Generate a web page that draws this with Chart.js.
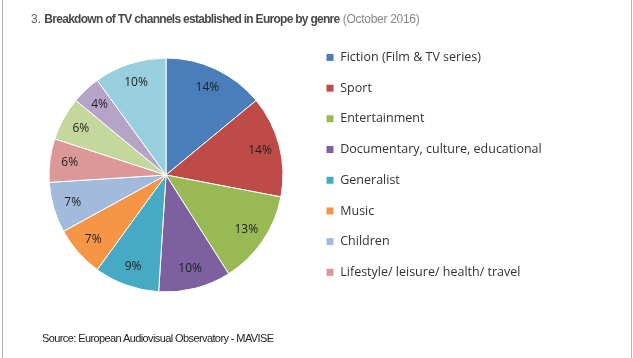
<!DOCTYPE html>
<html>
<head>
<meta charset="utf-8">
<script src="https://cdn.jsdelivr.net/npm/chart.js@4.4.1/dist/chart.umd.min.js"></script>
<style>
  html, body { margin: 0; padding: 0; background: #fff; }
  #wrap { position: relative; width: 633px; height: 358px; overflow: hidden; }
  #wrap:before, #wrap:after { content: ""; position: absolute; top: 0; bottom: 0; width: 1px; background: #b4b4b4; }
  #wrap:before { left: 2px; }
  #wrap:after { left: 631px; }
  #title { position: absolute; left: 31px; top: 12px; font: 12px "Liberation Sans", sans-serif; color: #666; white-space: nowrap; }
  #title b { color: #4a4a4a; letter-spacing: -0.72px; }
  #title span { color: #888; letter-spacing: -0.3px; }
  #source { position: absolute; left: 42px; top: 332px; font: 11px "Liberation Sans", sans-serif; color: #222; white-space: nowrap; letter-spacing: -0.6px; }
  #box { position: absolute; left: 0; top: 0; width: 633px; height: 358px; }
</style>
</head>
<body>
<div id="wrap">
  <div id="box"><canvas id="pie"></canvas></div>
  <div id="title">3. <b>Breakdown of TV channels established in Europe by genre</b> <span>(October 2016)</span></div>
  <div id="source">Source: European Audiovisual Observatory - MAVISE</div>
</div>
<script>
// genres, in the order of the slices (clockwise from 12 o'clock)
let genres = ["Fiction (Film & TV series)", "Sport", "Entertainment", "Documentary, culture, educational",
    "Generalist", "Music", "Children", "Lifestyle/ leisure/ health/ travel", "News", "Adult", "Other"];
// share of channels, %
let shares = [14, 14, 13, 10, 9, 7, 7, 6, 6, 4, 10];
let colours = ["#4a7ebb", "#be4b48", "#98b954", "#7d60a0", "#46aac5", "#f69546",
    "#a2bbdd", "#dc9897", "#c4d79c", "#b5a4c8", "#98cfde"];
// the legend in the picture is cut after the 8th entry
let shownInLegend = 8;

let legendFont = 12.5;
let legendPad = 18.2;
let boxW = 8;
let legendLeft = 326 - legendPad;
let pieX = 166;

// legend box width = text width + padding, so work out the right padding that puts it at legendLeft
let m = document.createElement("canvas").getContext("2d");
m.font = legendFont + "px 'Open Sans'";
let maxText = 0;
for (let i = 0; i < shownInLegend; i++) {
    maxText = Math.max(maxText, m.measureText(genres[i]).width);
}
let legendW = legendPad + boxW + legendFont / 2 + maxText + 10;
let padRight = 633 - legendLeft - legendW;
let padLeft = 2 * pieX - legendLeft;

const pctLabels = {
    id: "pctLabels",
    afterDatasetsDraw(chart) {
        let ctx = chart.ctx;
        let meta = chart.getDatasetMeta(0);
        ctx.save();
        ctx.font = "12px 'Open Sans'";
        ctx.fillStyle = "#1e1e1e";
        ctx.textAlign = "center";
        ctx.textBaseline = "middle";
        meta.data.forEach(function (arc, i) {
            let p = arc.getProps(["x", "y", "startAngle", "endAngle", "outerRadius"], true);
            let a = (p.startAngle + p.endAngle) / 2;
            let r = p.outerRadius * 0.83;
            ctx.fillText(shares[i] + "%", p.x + Math.cos(a) * r, p.y + Math.sin(a) * r);
        });
        ctx.restore();
    }
};

new Chart(document.getElementById("pie"), {
    type: "pie",
    data: {
        labels: genres,
        datasets: [{
            data: shares,
            backgroundColor: colours,
            borderColor: "#ffffff",
            borderWidth: 1,
            radius: 117
        }]
    },
    options: {
        responsive: true,
        maintainAspectRatio: false,
        animation: false,
        layout: { padding: { top: 33, bottom: 41, left: padLeft, right: padRight } },
        plugins: {
            tooltip: { enabled: false },
            legend: {
                position: "right",
                align: "start",
                labels: {
                    boxWidth: boxW,
                    boxHeight: boxW,
                    padding: legendPad,
                    color: "#333",
                    font: { family: "'Open Sans'", size: legendFont },
                    filter: function (item) { return item.index < shownInLegend; }
                }
            }
        }
    },
    plugins: [pctLabels]
});
</script>
</body>
</html>
